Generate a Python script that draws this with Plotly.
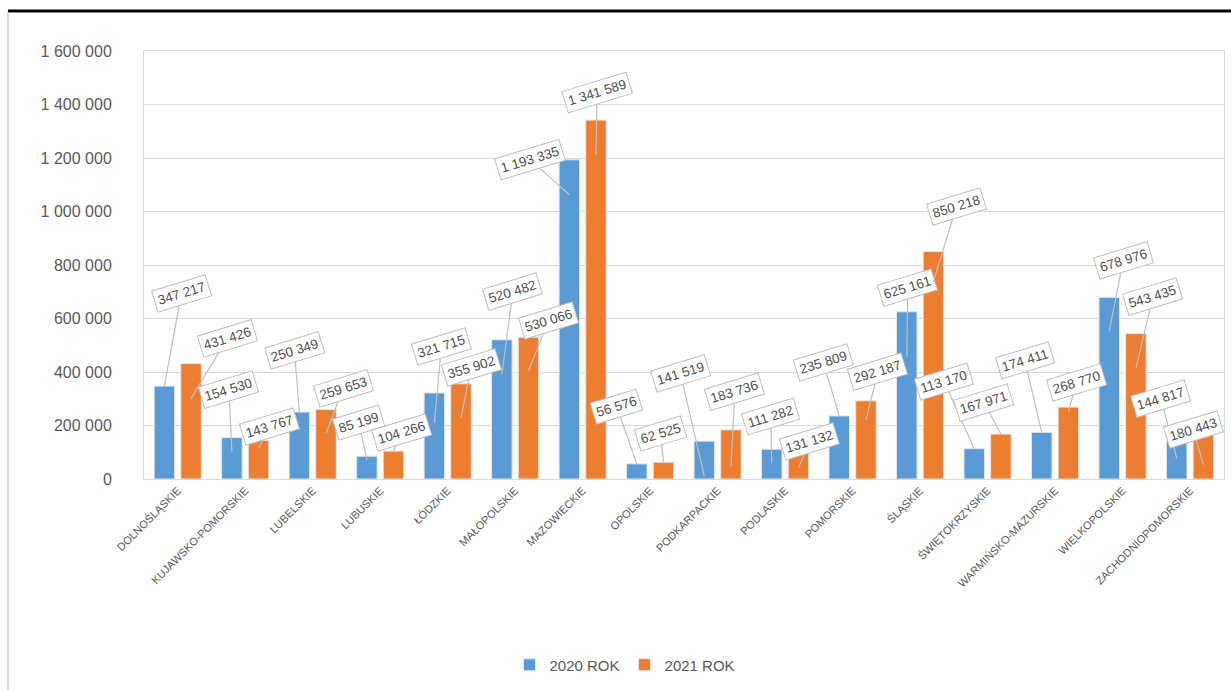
import plotly.graph_objects as go

# ---------------- data ----------------
regions = ["DOLNOŚLĄSKIE", "KUJAWSKO-POMORSKIE", "LUBELSKIE", "LUBUSKIE", "ŁÓDZKIE",
           "MAŁOPOLSKIE", "MAZOWIECKIE", "OPOLSKIE", "PODKARPACKIE", "PODLASKIE",
           "POMORSKIE", "ŚLĄSKIE", "ŚWIĘTOKRZYSKIE", "WARMIŃSKO-MAZURSKIE",
           "WIELKOPOLSKIE", "ZACHODNIOPOMORSKIE"]
rok_2020 = [347217, 154530, 250349, 85199, 321715, 520482, 1193335, 56576,
            141519, 111282, 235809, 625161, 113170, 174411, 678976, 144817]
rok_2021 = [431426, 143767, 259653, 104266, 355902, 530066, 1341589, 62525,
            183736, 131132, 292187, 850218, 167971, 268770, 543435, 180443]
series_names = ["2020 ROK", "2021 ROK"]
y_ticks = [0, 200000, 400000, 600000, 800000, 1000000, 1200000, 1400000, 1600000]

# ---------------- label placement (layout only: box offset ax, ay and tip depth dy, px) ----------------
place_2020 = [(17, -93, 0), (-3, -62, 14), (-5, -62, 0), (-8, -38, 4), (7, -76, 30),
              (11, -83, 35), (-39, -35, 35), (-20, -57, 0), (-24, -103, 35), (-1, -47, 14),
              (-16, -53, 0), (1, -69, 45), (-30, -67, 0), (-17, -72, 0), (14, -71, 34),
              (-16, -60, 18)]
place_2021 = [(36, -60, 35), (11, -22, 8), (17, -45, 24), (8, -19, 0), (10, -50, 34),
              (20, -51, 34), (1, -63, 35), (-3, -29, 0), (4, -75, 37), (11, -26, 24),
              (12, -48, 19), (23, -75, 30), (-17, -32, 0), (8, -30, 5), (17, -72, 35),
              (-10, -35, 34)]

BLUE = "#5B9BD5"
ORANGE = "#ED7D31"
GRID = "#D9D9D9"
TXT = "#595959"
FONT = "Liberation Sans"

BARGAP = 0.21
GROUPGAP = 0.23
half = (1 - BARGAP) / 4.0  # centre offset of each bar within a category

fig = go.Figure()
for name, vals, col in [(series_names[0], rok_2020, BLUE), (series_names[1], rok_2021, ORANGE)]:
    fig.add_trace(go.Bar(
        name=name, x=regions, y=vals,
        marker=dict(color=col, line=dict(color="#E6E6E6", width=1)),
        hoverinfo="skip",
    ))

def fmt(v):
    return f"{v:,}".replace(",", " ")

annotations = []
for vals, place, off in [(rok_2020, place_2020, -half), (rok_2021, place_2021, half)]:
    for i, (v, (ax, ay, dy)) in enumerate(zip(vals, place)):
        annotations.append(dict(
            x=i + off, y=v, xref="x", yref="y",
            text=fmt(v), showarrow=True, arrowhead=0, arrowwidth=1.2,
            arrowcolor="#BFBFBF", ax=ax, ay=ay, yshift=-dy,
            bgcolor="white", bordercolor="#BFBFBF", borderwidth=1, borderpad=3,
            textangle=-17, font=dict(family=FONT, size=13.5, color="#505050"),
        ))

W, H = 1231, 690
L, R, T, B = 144, 7, 51, 211
pw, ph = W - L - R, H - T - B

def px_x(p):
    return (p - L) / pw

def px_y(p):
    return (H - B - p) / ph

shapes = [
    dict(type="line", xref="paper", yref="paper", x0=px_x(8), x1=px_x(1231),
         y0=px_y(11), y1=px_y(11), line=dict(color="black", width=3)),
    dict(type="line", xref="paper", yref="paper", x0=px_x(8), x1=px_x(8),
         y0=px_y(12), y1=px_y(690), line=dict(color="#C8C8C8", width=1.5)),
]

fig.update_layout(
    width=W, height=H,
    margin=dict(l=L, r=R, t=T, b=B, pad=0),
    paper_bgcolor="white", plot_bgcolor="white",
    barmode="group", bargap=BARGAP, bargroupgap=GROUPGAP,
    separators=", ",
    font=dict(family=FONT, color=TXT),
    showlegend=True,
    legend=dict(orientation="h", x=px_x(625), xanchor="center",
                y=px_y(665), yanchor="middle",
                font=dict(family=FONT, size=15, color=TXT), itemwidth=30),
    annotations=annotations,
    shapes=shapes,
)
fig.update_yaxes(range=[0, 1600000], tickvals=y_ticks, tickformat=",d",
                 gridcolor=GRID, gridwidth=1, showline=True, mirror=True,
                 linecolor=GRID, linewidth=1, zeroline=False,
                 tickfont=dict(family=FONT, size=16, color=TXT),
                 ticks="", ticklabelstandoff=28)
fig.update_xaxes(type="category", showline=True, mirror=True, linecolor=GRID,
                 linewidth=1, showgrid=False, tickangle=-45, ticks="",
                 tickfont=dict(family=FONT, size=11, color=TXT))

fig.write_html("out.html", config={"displayModeBar": False},
               post_script="document.body.style.margin='0';")
